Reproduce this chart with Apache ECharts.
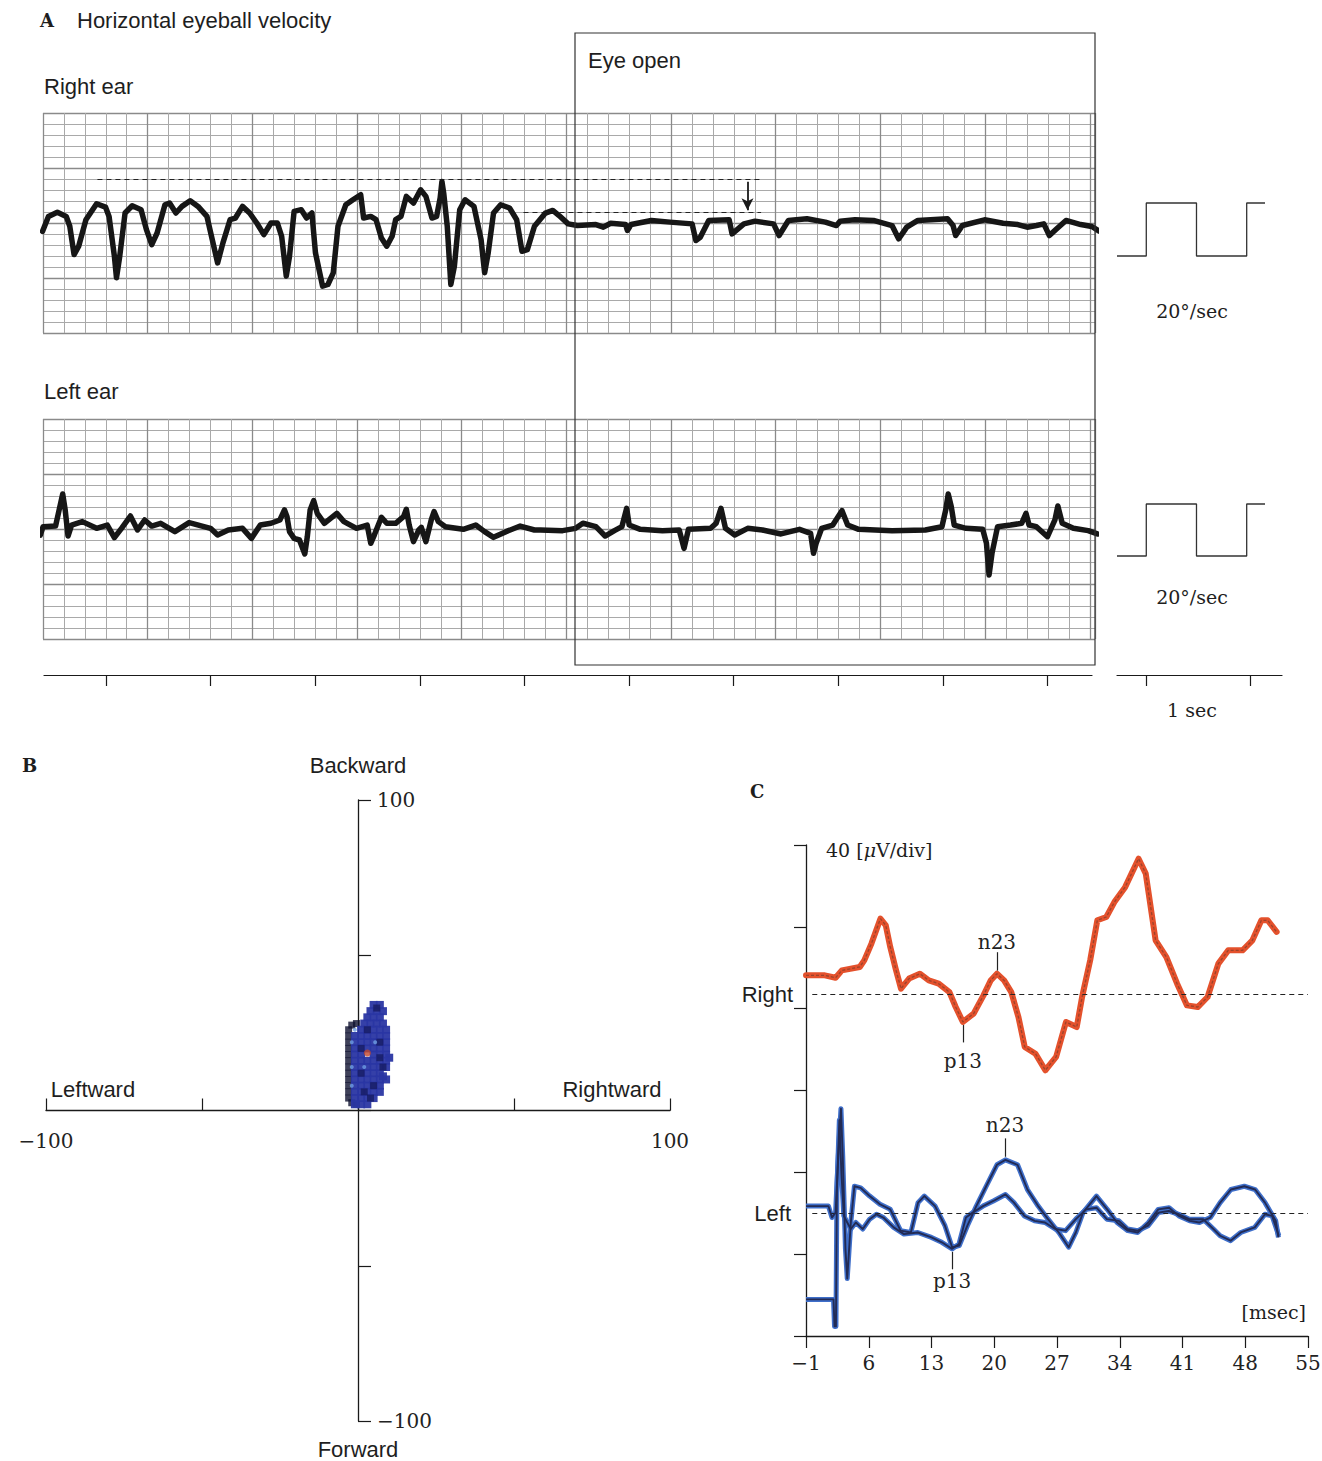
<!DOCTYPE html>
<html><head><meta charset="utf-8">
<script src="https://cdn.jsdelivr.net/npm/echarts@6/dist/echarts.min.js"></script>
<style>html,body{margin:0;padding:0;background:#fff}#c{width:1322px;height:1461px}</style>
</head><body><div id="c"></div><script>
// ---------- DATA ----------
// Panel A: horizontal eyeball velocity, [time (s), velocity (grid divisions)]
const rightEarTrace = [[-0.605,-0.76],[-0.548,0.60],[-0.463,0.97],[-0.378,0.60],[-0.344,-0.30],[-0.303,-2.87],[-0.259,-2.11],[-0.19,0.30],[-0.088,1.75],[-0.003,1.45],[0.031,0.60],[0.082,-3.02],[0.102,-4.98],[0.133,-3.02],[0.184,0.91],[0.252,1.57],[0.337,1.21],[0.388,-0.60],[0.439,-1.96],[0.49,-0.91],[0.565,1.66],[0.609,1.81],[0.67,0.91],[0.728,1.51],[0.806,2.02],[0.881,1.51],[0.966,0.60],[1.017,-1.51],[1.068,-3.63],[1.119,-1.81],[1.187,0.30],[1.238,0.45],[1.306,1.51],[1.374,0.91],[1.442,0.0],[1.51,-1.06],[1.578,0.0],[1.639,0.0],[1.68,-1.21],[1.724,-4.83],[1.755,-3.02],[1.799,1.06],[1.867,1.21],[1.918,0.45],[1.969,0.91],[2.003,-2.72],[2.071,-5.74],[2.122,-5.59],[2.173,-4.53],[2.218,-0.30],[2.293,1.66],[2.361,2.11],[2.435,2.57],[2.463,0.45],[2.531,0.60],[2.582,0.30],[2.633,-1.36],[2.684,-2.11],[2.735,-1.21],[2.769,0.30],[2.82,0.60],[2.871,2.42],[2.939,1.81],[3.007,3.02],[3.058,2.42],[3.116,0.45],[3.16,0.60],[3.194,2.27],[3.211,3.78],[3.228,2.72],[3.262,-0.30],[3.296,-5.59],[3.33,-3.93],[3.381,1.21],[3.432,2.11],[3.517,1.51],[3.585,-1.51],[3.619,-4.53],[3.653,-2.72],[3.704,0.91],[3.772,1.66],[3.857,1.36],[3.925,0.30],[3.976,-2.57],[4.027,-2.42],[4.095,-0.30],[4.2,0.9],[4.27,1.14],[4.33,0.68],[4.417,-0.08],[4.505,-0.23],[4.682,-0.14],[4.753,-0.38],[4.823,-0.02],[4.965,-0.14],[4.983,-0.68],[5.018,-0.14],[5.212,0.23],[5.389,0.08],[5.601,-0.08],[5.637,-1.59],[5.679,-1.29],[5.76,0.23],[5.955,0.29],[5.983,-0.99],[6.096,-0.08],[6.202,0.17],[6.379,-0.08],[6.432,-1.14],[6.521,0.23],[6.698,0.38],[6.874,0.08],[6.98,-0.23],[7.016,0.17],[7.157,0.29],[7.334,0.23],[7.511,-0.23],[7.574,-1.44],[7.652,-0.38],[7.758,0.23],[8.041,0.38],[8.094,-0.23],[8.119,-1.14],[8.183,-0.23],[8.395,0.29],[8.572,-0.02],[8.713,-0.14],[8.802,-0.38],[8.89,-0.23],[8.961,-0.08],[9.014,-1.14],[9.084,-0.53],[9.173,0.23],[9.314,-0.14],[9.42,-0.32],[9.49,-0.74]];
const leftEarTrace = [[-0.626,-0.55],[-0.599,0.21],[-0.48,0.27],[-0.446,1.73],[-0.412,3.18],[-0.388,1.73],[-0.361,-0.64],[-0.327,0.36],[-0.224,0.67],[-0.088,0.06],[0.014,0.36],[0.082,-0.79],[0.15,0.06],[0.235,1.18],[0.303,-0.09],[0.371,0.82],[0.439,0.27],[0.524,0.52],[0.66,-0.24],[0.796,0.58],[1.0,0.06],[1.068,-0.55],[1.17,-0.09],[1.306,0.06],[1.391,-0.85],[1.476,0.36],[1.578,0.52],[1.663,0.82],[1.707,1.73],[1.731,1.12],[1.755,-0.24],[1.799,-0.85],[1.85,-1.0],[1.901,-2.27],[1.925,-0.7],[1.952,1.73],[1.986,2.58],[2.02,1.42],[2.088,0.52],[2.207,1.42],[2.275,0.67],[2.395,0.06],[2.497,0.36],[2.531,-1.3],[2.565,-0.55],[2.633,1.06],[2.684,0.52],[2.769,0.52],[2.844,1.12],[2.871,1.79],[2.898,0.36],[2.939,-1.15],[2.99,-0.09],[3.014,0.15],[3.058,-1.15],[3.109,0.82],[3.136,1.58],[3.177,0.67],[3.245,0.21],[3.415,-0.03],[3.534,0.36],[3.619,-0.24],[3.704,-0.76],[3.823,-0.24],[3.959,0.27],[4.095,-0.09],[4.152,-0.09],[4.364,-0.15],[4.488,0.06],[4.558,0.52],[4.682,0.21],[4.77,-0.64],[4.859,-0.15],[4.93,0.21],[4.976,1.88],[5.0,0.36],[5.106,-0.03],[5.318,-0.15],[5.478,-0.09],[5.524,-1.76],[5.566,-0.03],[5.778,0.06],[5.831,0.52],[5.877,1.88],[5.92,0.06],[6.008,-0.55],[6.132,0.06],[6.273,-0.09],[6.45,-0.45],[6.627,-0.03],[6.733,-0.39],[6.761,-2.21],[6.786,-1.3],[6.839,0.06],[6.945,0.36],[7.033,1.67],[7.087,0.36],[7.192,-0.03],[7.511,-0.15],[7.829,-0.09],[7.988,0.21],[8.024,1.73],[8.048,3.18],[8.077,2.03],[8.105,0.36],[8.218,0.06],[8.377,-0.03],[8.413,-1.3],[8.438,-4.18],[8.466,-2.21],[8.519,0.21],[8.643,0.36],[8.749,0.52],[8.791,1.42],[8.82,0.36],[8.89,0.21],[8.996,-0.7],[9.067,0.82],[9.095,2.09],[9.137,0.52],[9.244,0.06],[9.385,-0.15],[9.473,-0.45]];
const timeTicks = [0,1,2,3,4,5,6,7,8,9];           // seconds
const refBefore = 4, refAfter = 1;                  // divisions (dashed reference levels)
const refBeforeSpan = [-0.08, 6.26], refAfterSpan = [3.99, 6.26];
const arrowTime = 6.13, arrowFrom = 3.75, arrowTo = 1.15;
// calibration pulses: 20 deg/sec, 1 sec
const calTimes = [0, 0.28, 0.76, 1.24, 1.415];
const calValues = [0, 20, 0, 20, 20];
const secTicks = [0, 1];

// Panel B: eye position (Leftward/Rightward, Forward/Backward)
const posTicks = [-100, 100];
const blobBody = [[5,34],[7,34],[4,32],[6,32],[8,32],[3,30],[5,30],[7,30],[2,28],[4,28],[6,28],[8,28],[1,26],[3,26],[5,26],[7,26],[9,26],[-1,24],[1,24],[3,24],[5,24],[7,24],[9,24],[-1,22],[1,22],[3,22],[5,22],[7,22],[9,22],[-1,20],[1,20],[3,20],[5,20],[7,20],[9,20],[-1,18],[1,18],[5,18],[7,18],[9,18],[10,17],[-1,16],[1,16],[3,16],[5,16],[7,16],[9,16],[-1,14],[1,14],[3,14],[5,14],[7,14],[9,14],[-1,12],[1,12],[3,12],[5,12],[7,12],[8,11],[-1,10],[1,10],[3,10],[5,10],[7,10],[9,10],[-1,8],[1,8],[3,8],[5,8],[7,8],[-1,6],[1,6],[3,6],[5,6],[7,6],[-1,4],[1,4],[3,4],[5,4],[-1,2],[1,2],[3,2]];
const blobDeep = [[1,12],[5,8],[7,22],[3,26],[8,14],[6,33],[1,20],[4,4],[7,17],[2,6]];
const blobOutline = [[-3,4],[-3,6],[-3,8],[-3,10],[-3,12],[-3,14],[-3,16],[-3,18],[-3,20],[-3,22],[-3,24],[-3,26],[-2,27.5],[-0.5,28],[-2,2.5],[-0.5,2]];
const blobLight = [[-2,8],[-2,14],[-2,22],[5.5,22],[2,14],[-1,26]];
const blobCenter = [[3,18.5]];

// Panel C: VEMP, [time (msec), amplitude (uV)]
const vepTicks = [-1,6,13,20,27,34,41,48,55];
const rightBase = 167, leftBase = 60;
const rightVemp = [[-1,9.3],[1.1,9.3],[2.3,8.1],[3.0,11.7],[5.0,13.4],[5.5,16.6],[6.3,24.8],[7.3,37.0],[7.9,33.7],[8.4,23.1],[9.0,12.5],[9.6,2.8],[10.5,7.7],[11.7,10.1],[12.7,6.8],[13.8,5.2],[15.0,1.1],[15.7,-6.2],[16.5,-13.5],[17.7,-9.4],[18.8,-0.5],[19.6,6.8],[20.3,10.1],[21.1,6.8],[21.9,1.1],[22.7,-11.1],[23.4,-25.7],[24.6,-29.0],[25.7,-37.1],[26.9,-30.6],[28.0,-13.5],[29.2,-16.0],[29.8,-1.3],[30.7,16.6],[31.5,36.2],[32.5,37.8],[33.4,45.1],[34.6,52.4],[36.1,66.3],[36.9,59.0],[38.0,26.4],[39.2,18.2],[40.4,5.2],[41.5,-5.4],[42.7,-6.2],[43.8,-1.3],[45.0,15.0],[46.1,21.5],[47.7,21.5],[48.8,26.4],[49.8,36.2],[50.5,36.2],[51.5,30.5]];
const leftVempA = [[-1,3.5],[1.5,3.5],[1.9,-2.1],[2.3,0.3],[2.6,27.7],[2.9,51.1],[3.1,27.7],[3.4,-17.4],[3.6,-31.9],[4.0,-4.5],[4.4,13.2],[5.1,12.4],[6.1,8.4],[7.25,4.4],[8.4,1.9],[9.55,-8.5],[10.7,-9.4],[11.5,5.2],[12.2,8.4],[13.4,3.5],[14.5,-6.1],[15.3,-16.6],[16.1,-15.8],[17.0,-6.1],[18.0,3.5],[19.1,13.2],[20.3,23.7],[21.25,26.1],[22.6,23.7],[23.7,11.6],[24.9,3.5],[26.0,-2.9],[27.2,-9.4],[28.3,-16.6],[29.1,-9.4],[29.9,0.3],[31.4,8.4],[32.6,1.9],[33.7,-4.5],[34.9,-8.5],[36.0,-9.4],[37.2,-4.5],[38.3,1.9],[39.5,2.7],[40.6,-1.3],[41.8,-3.7],[42.9,-4.5],[44.1,-2.1],[45.2,5.2],[46.4,11.6],[47.9,13.2],[49.1,11.6],[50.2,5.2],[51.4,-3.7],[51.7,-11.8]];
const leftVempB = [[-1,-42.1],[2.07,-42.1],[2.18,-55.3],[2.34,-55.3],[2.45,11.6],[2.72,45.5],[2.95,19.7],[3.22,-1.3],[3.6,-4.5],[4.0,-7.7],[4.56,-4.5],[5.33,-7.7],[6.1,-2.9],[6.86,-0.5],[7.63,-2.1],[8.78,-6.9],[9.93,-10.2],[11.47,-9.4],[13.0,-11.8],[14.15,-14.2],[15.3,-17.4],[16.07,-15.0],[16.84,-2.1],[17.6,0.3],[18.75,3.5],[19.9,6.0],[21.25,9.2],[22.2,5.2],[23.36,-1.3],[24.5,-3.7],[25.66,-4.5],[26.8,-7.7],[27.96,-8.5],[29.1,-2.9],[30.26,1.9],[31.4,2.7],[32.56,-2.9],[33.9,-3.7],[34.87,-7.7],[36.0,-8.5],[37.17,-6.1],[38.3,0.3],[39.47,1.1],[40.6,-0.5],[41.77,-2.9],[43.3,-2.9],[44.45,-7.7],[45.2,-11.0],[46.37,-13.4],[47.5,-9.4],[49.06,-6.9],[50.2,-0.5],[51.0,-1.3],[51.74,-11.0]];
// peak markers [msec, uV relative to baseline]
const rightN23 = [20.3, 10.1], rightP13 = [16.5, -13.5];
const leftN23 = [21.2, 26.1], leftP13 = [15.3, -17.4];

// ---------- CHART ----------
const SANS = '"Liberation Sans", Arial, sans-serif';
const SERIF = '"DejaVu Serif", serif';
const INK = '#1a1a1a';
const minus = v => (v < 0 ? '\u2212' + Math.abs(v) : String(v));
const shift = (arr, b) => arr.map(p => [p[0], p[1] + b]);

const chart = echarts.init(document.getElementById('c'), null, {renderer: 'svg'});

function gridAxisX(gi, interval, color, width) {
  return {type: 'value', gridIndex: gi, min: -0.6, max: 9.45, interval,
    axisLine: {show: false}, axisTick: {show: false}, axisLabel: {show: false},
    splitLine: {show: true, lineStyle: {color, width}}};
}
function gridAxisY(gi, interval, color, width) {
  return {type: 'value', gridIndex: gi, min: -10, max: 10, interval,
    axisLine: {show: false}, axisTick: {show: false}, axisLabel: {show: false},
    splitLine: {show: true, lineStyle: {color, width}}};
}
const hidden = (gi, min, max) => ({type: 'value', gridIndex: gi, show: false, min, max});
const G = (o) => Object.assign({outerBoundsMode: 'none', containLabel: false}, o);

const lineBase = {type: 'line', showSymbol: false, symbol: 'none', silent: true, animation: false};
const refStyle = {color: '#222', type: [5, 4], width: 1.1};
const MINOR = '#a9a9a9', MAJOR = '#8a8a8a';

function peakMark(p, base, label, up, dist) {
  const y0 = p[1] + base;
  const a = up ? y0 + 1.5 : y0 - 1.5;
  const b = up ? y0 + 10.5 : y0 - 10;
  return [{coord: [p[0], a], label: {show: true, formatter: label, position: 'end', distance: dist,
            fontFamily: SERIF, fontSize: 20, color: '#222'}},
          {coord: [p[0], b]}];
}

const option = {
  animation: false,
  backgroundColor: '#fff',
  grid: [
    G({left: 43, top: 113, width: 1052, height: 220}),   // 0 right ear
    G({left: 43, top: 419, width: 1052, height: 220}),   // 1 left ear
    G({left: 44, top: 665, width: 1048, height: 10}),    // 2 time axis
    G({left: 1117, top: 203, width: 148, height: 53}),   // 3 cal right
    G({left: 1117, top: 504, width: 148, height: 52}),   // 4 cal left
    G({left: 1117, top: 665, width: 165, height: 10}),   // 5 1 sec bar
    G({left: 46, top: 800, width: 624, height: 621}),    // 6 panel B plot
    G({left: 806, top: 845, width: 502, height: 491}),   // 7 panel C
    G({left: 46, top: 800, width: 624, height: 310.5}),  // 8 panel B horizontal axis
    G({left: 358, top: 800, width: 312, height: 621})    // 9 panel B vertical axis
  ],
  xAxis: [
    gridAxisX(0, 0.2, MINOR, 1), gridAxisX(0, 1, MAJOR, 1.3),
    gridAxisX(1, 0.2, MINOR, 1), gridAxisX(1, 1, MAJOR, 1.3),
    {type: 'value', gridIndex: 2, min: -0.593, max: 9.426, position: 'bottom',
     axisLine: {show: true, onZero: false, lineStyle: {color: INK, width: 1.2}},
     axisTick: {show: true, customValues: timeTicks, length: 11, lineStyle: {color: INK, width: 1.2}},
     axisLabel: {show: false}, splitLine: {show: false}},
    hidden(3, 0, 1.415), hidden(4, 0, 1.415),
    {type: 'value', gridIndex: 5, min: -0.28, max: 1.30, position: 'bottom',
     axisLine: {show: true, onZero: false, lineStyle: {color: INK, width: 1.2}},
     axisTick: {show: true, customValues: secTicks, length: 11, lineStyle: {color: INK, width: 1.2}},
     axisLabel: {show: false}, splitLine: {show: false}},
    hidden(6, -100, 100),
    {type: 'value', gridIndex: 7, min: -1, max: 55,
     axisLine: {show: true, onZero: false, lineStyle: {color: INK, width: 1.3}},
     axisTick: {show: true, customValues: vepTicks, length: 12, lineStyle: {color: INK, width: 1.2}},
     axisLabel: {show: true, customValues: vepTicks, margin: 17, fontFamily: SERIF, fontSize: 20, color: '#222', formatter: minus},
     splitLine: {show: false}},
    {type: 'value', gridIndex: 8, min: -100, max: 100, interval: 50, position: 'bottom',
     axisLine: {show: true, onZero: false, lineStyle: {color: INK, width: 1.3}},
     axisTick: {show: true, inside: true, length: 12, lineStyle: {color: INK, width: 1.2}},
     axisLabel: {show: true, customValues: posTicks, margin: 20, fontFamily: SERIF, fontSize: 20, color: '#222', formatter: minus},
     splitLine: {show: false}},
    hidden(9, 0, 100)
  ],
  yAxis: [
    gridAxisY(0, 1, MINOR, 1), gridAxisY(0, 5, MAJOR, 1.3),
    gridAxisY(1, 1, MINOR, 1), gridAxisY(1, 5, MAJOR, 1.3),
    hidden(2, 0, 1), hidden(3, 0, 20), hidden(4, 0, 20), hidden(5, 0, 1),
    hidden(6, -100, 100),
    {type: 'value', gridIndex: 7, min: 0, max: 240, interval: 40,
     axisLine: {show: true, onZero: false, lineStyle: {color: INK, width: 1.3}},
     axisTick: {show: true, length: 12, lineStyle: {color: INK, width: 1.2}},
     axisLabel: {show: false}, splitLine: {show: false}},
    hidden(8, 0, 100),
    {type: 'value', gridIndex: 9, min: -100, max: 100, interval: 50, position: 'left',
     axisLine: {show: true, onZero: false, lineStyle: {color: INK, width: 1.3}},
     axisTick: {show: true, inside: true, length: 13, lineStyle: {color: INK, width: 1.2}},
     axisLabel: {show: true, inside: true, customValues: posTicks, margin: 19, fontFamily: SERIF, fontSize: 20, color: '#222', formatter: minus},
     splitLine: {show: false}}
  ],
  series: [
    Object.assign({}, lineBase, {
      name: 'Right ear', xAxisIndex: 1, yAxisIndex: 1, data: rightEarTrace, clip: false, z: 5,
      lineStyle: {color: '#161616', width: 5.5, join: 'round', cap: 'round'},
      markLine: {silent: true, animation: false, symbol: 'none', label: {show: false}, lineStyle: refStyle,
        data: [
          [{coord: [refBeforeSpan[0], refBefore]}, {coord: [refBeforeSpan[1], refBefore]}],
          [{coord: [refAfterSpan[0], refAfter]}, {coord: [refAfterSpan[1], refAfter]}],
          [{coord: [arrowTime, arrowFrom], symbol: 'none', lineStyle: {type: 'solid', width: 1.8, color: INK}},
           {coord: [arrowTime, arrowTo], symbol: 'arrow', symbolSize: [9, 12]}]
        ]}
    }),
    Object.assign({}, lineBase, {
      name: 'Left ear', xAxisIndex: 3, yAxisIndex: 3, data: leftEarTrace, clip: false, z: 5,
      lineStyle: {color: '#161616', width: 5.5, join: 'round', cap: 'round'}
    }),
    Object.assign({}, lineBase, {
      name: 'cal right', xAxisIndex: 5, yAxisIndex: 5, step: 'end', clip: false,
      data: calTimes.map((t, i) => [t, calValues[i]]), lineStyle: {color: '#333', width: 1.3}
    }),
    Object.assign({}, lineBase, {
      name: 'cal left', xAxisIndex: 6, yAxisIndex: 6, step: 'end', clip: false,
      data: calTimes.map((t, i) => [t, calValues[i]]), lineStyle: {color: '#333', width: 1.3}
    }),
    {type: 'scatter', name: 'outline', xAxisIndex: 8, yAxisIndex: 8, data: blobOutline, symbol: 'rect', symbolSize: 7,
     silent: true, itemStyle: {color: '#0f1230'}, z: 3},
    {type: 'scatter', name: 'body', xAxisIndex: 8, yAxisIndex: 8, data: blobBody, symbol: 'rect', symbolSize: 8,
     silent: true, itemStyle: {color: '#2a36a3', opacity: 0.95}, z: 3},
    {type: 'scatter', name: 'deep', xAxisIndex: 8, yAxisIndex: 8, data: blobDeep, symbol: 'rect', symbolSize: 7,
     silent: true, itemStyle: {color: '#171c63'}, z: 4},
    {type: 'scatter', name: 'light', xAxisIndex: 8, yAxisIndex: 8, data: blobLight, symbol: 'circle', symbolSize: 4,
     silent: true, itemStyle: {color: '#6e9ee2'}, z: 4},
    {type: 'scatter', name: 'center', xAxisIndex: 8, yAxisIndex: 8, data: blobCenter, symbol: 'circle', symbolSize: 7,
     silent: true, itemStyle: {color: '#c3462b'}, z: 5},
    Object.assign({}, lineBase, {
      name: 'Right VEMP', xAxisIndex: 9, yAxisIndex: 9, data: shift(rightVemp, rightBase), z: 4,
      lineStyle: {color: '#e4512c', width: 6, join: 'round', cap: 'round'},
      markLine: {silent: true, animation: false, symbol: 'none', label: {show: false},
        lineStyle: {color: '#222', width: 1.2, type: 'solid'},
        data: [
          [{coord: [-0.3, rightBase], lineStyle: refStyle}, {coord: [55, rightBase]}],
          peakMark(rightN23, rightBase, 'n23', true, 0),
          peakMark(rightP13, rightBase, 'p13', false, 9)
        ]}
    }),
    Object.assign({}, lineBase, {
      name: 'Right VEMP core', xAxisIndex: 9, yAxisIndex: 9, data: shift(rightVemp, rightBase), z: 5,
      lineStyle: {color: '#6a3a2c', width: 1.3, opacity: 0.6, type: [3, 2]}
    }),
    Object.assign({}, lineBase, {
      name: 'Left VEMP A', xAxisIndex: 9, yAxisIndex: 9, data: shift(leftVempA, leftBase), z: 4,
      lineStyle: {color: '#3f6fca', width: 5, join: 'round'},
      markLine: {silent: true, animation: false, symbol: 'none', label: {show: false},
        lineStyle: {color: '#222', width: 1.2, type: 'solid'},
        data: [
          [{coord: [-0.3, leftBase], lineStyle: refStyle}, {coord: [55, leftBase]}],
          peakMark(leftN23, leftBase, 'n23', true, 3),
          peakMark(leftP13, leftBase, 'p13', false, 2)
        ]}
    }),
    Object.assign({}, lineBase, {
      name: 'Left VEMP B', xAxisIndex: 9, yAxisIndex: 9, data: shift(leftVempB, leftBase), z: 4,
      lineStyle: {color: '#3f6fca', width: 5, join: 'round'}
    }),
    Object.assign({}, lineBase, {
      name: 'Left VEMP A core', xAxisIndex: 9, yAxisIndex: 9, data: shift(leftVempA, leftBase), z: 5,
      lineStyle: {color: '#222b55', width: 1.9, join: 'round'}
    }),
    Object.assign({}, lineBase, {
      name: 'Left VEMP B core', xAxisIndex: 9, yAxisIndex: 9, data: shift(leftVempB, leftBase), z: 5,
      lineStyle: {color: '#222b55', width: 1.9, join: 'round'}
    })
  ],
  graphic: {elements: []}
};

function txt(text, x, y, font, align, extra) {
  return {type: 'text', silent: true, z: 100,
    style: Object.assign({text, x, y, font, fill: '#1e1e1e', align: align || 'left', textAlign: align || 'left',
      verticalAlign: 'middle', textVerticalAlign: 'middle'}, extra || {})};
}
const F_SANS = '22px ' + SANS;
const F_SERIF = '19px ' + SERIF;
const F_BOLD = 'bold 18px ' + SERIF;
option.graphic.elements = [
  {type: 'rect', silent: true, z: 50, shape: {x: 575, y: 33, width: 520, height: 632},
   style: {fill: 'none', stroke: '#333', lineWidth: 1.2}},
  txt('A', 40, 20, F_BOLD),
  txt('Horizontal eyeball velocity', 77, 20, F_SANS),
  txt('Right ear', 44, 86, F_SANS),
  txt('Left ear', 44, 391, F_SANS),
  txt('Eye open', 588, 60, F_SANS),
  txt('20\u00B0/sec', 1192, 311, F_SERIF, 'center'),
  txt('20\u00B0/sec', 1192, 597, F_SERIF, 'center'),
  txt('1 sec', 1192, 710, F_SERIF, 'center'),
  txt('B', 22, 765, F_BOLD),
  txt('Backward', 358, 765, F_SANS, 'center'),
  txt('Leftward', 93, 1089, F_SANS, 'center'),
  txt('Rightward', 612, 1089, F_SANS, 'center'),
  txt('Forward', 358, 1449, F_SANS, 'center'),
  txt('C', 750, 791, F_BOLD),
  txt('40 [{i|\u03BC}V/div]', 826, 850, F_SERIF, 'left',
      {rich: {i: {fontStyle: 'italic', font: 'italic 19px ' + SERIF, fill: '#1e1e1e'}}}),
  txt('Right', 793, 994, F_SANS, 'right'),
  txt('Left', 791, 1213, F_SANS, 'right'),
  txt('[msec]', 1306, 1312, F_SERIF, 'right')
];

chart.setOption(option);
</script></body></html>
